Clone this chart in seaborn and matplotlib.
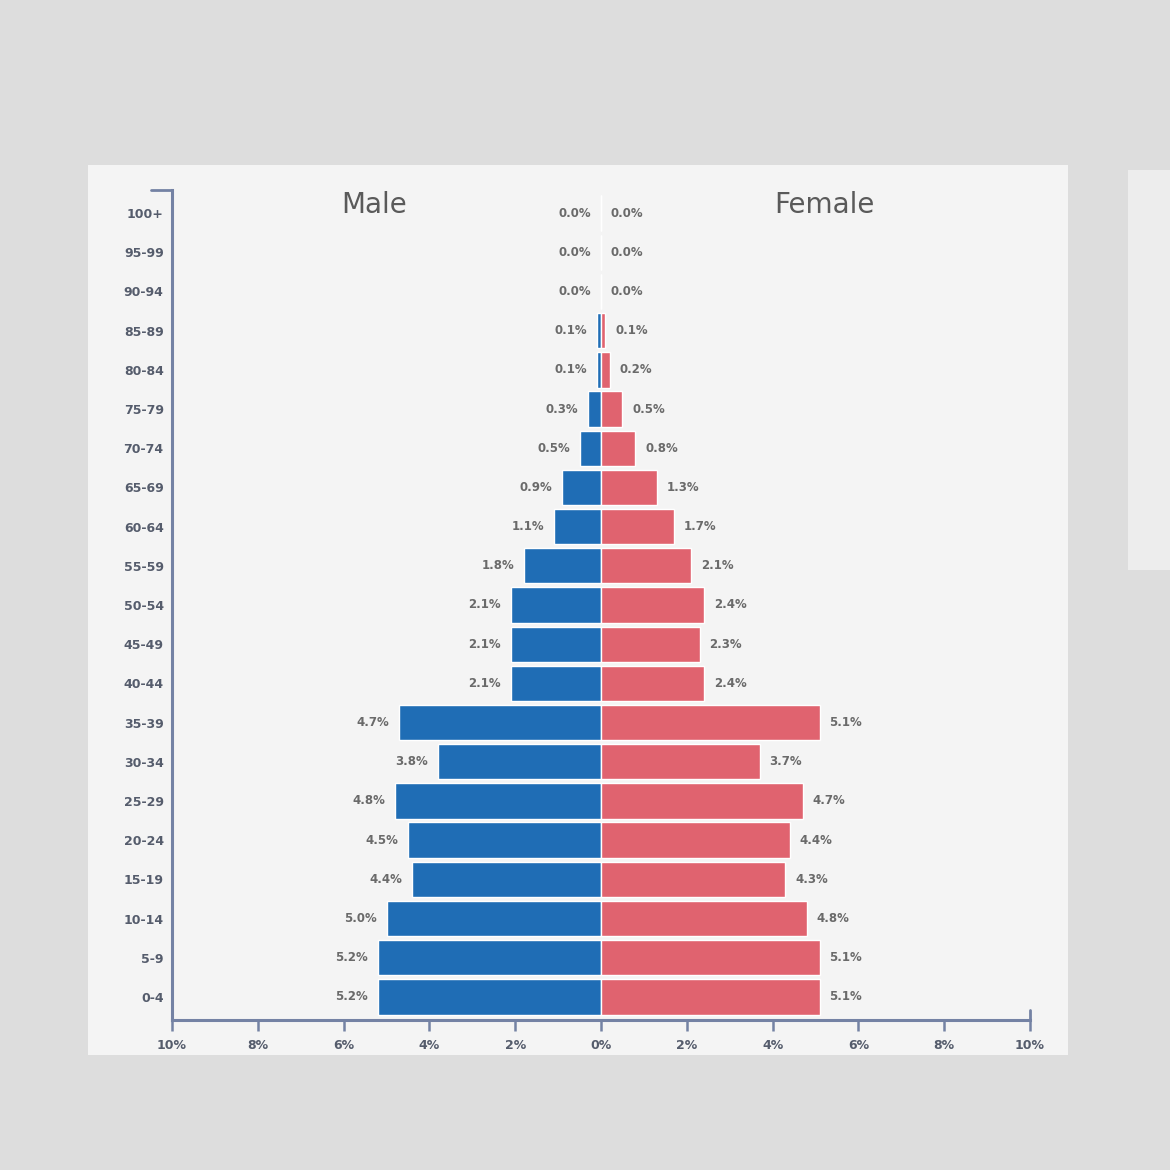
import numpy as np
import pandas as pd
import seaborn as sns
import matplotlib.pyplot as plt
from matplotlib.patches import Rectangle

# age groups, top of the pyramid first
ages = ['100+', '95-99', '90-94', '85-89', '80-84', '75-79', '70-74', '65-69',
        '60-64', '55-59', '50-54', '45-49', '40-44', '35-39', '30-34', '25-29',
        '20-24', '15-19', '10-14', '5-9', '0-4']

# percent of population
male = [0.0, 0.0, 0.0, 0.1, 0.1, 0.3, 0.5, 0.9, 1.1, 1.8, 2.1, 2.1, 2.1,
        4.7, 3.8, 4.8, 4.5, 4.4, 5.0, 5.2, 5.2]
female = [0.0, 0.0, 0.0, 0.1, 0.2, 0.5, 0.8, 1.3, 1.7, 2.1, 2.4, 2.3, 2.4,
          5.1, 3.7, 4.7, 4.4, 4.3, 4.8, 5.1, 5.1]

x_ticks = [-10, -8, -6, -4, -2, 0, 2, 4, 6, 8, 10]
x_tick_labels = ['10%', '8%', '6%', '4%', '2%', '0%', '2%', '4%', '6%', '8%', '10%']

# long frame, male drawn to the left
df = pd.DataFrame({
    'age': ages + ages,
    'sex': ['Male'] * len(ages) + ['Female'] * len(ages),
    'value': [-v for v in male] + female,
})

sns.set_style('white')
plt.rcParams['font.family'] = ['DejaVu Sans']

fig = plt.figure(figsize=(11.7, 11.7), dpi=100)
fig.patch.set_facecolor('#dddddd')

# chart panel and the partial panel on the right
fig.patches.append(Rectangle((88 / 1170, 1 - 1055 / 1170), 980 / 1170, 890 / 1170,
                             transform=fig.transFigure, facecolor='#f4f4f4',
                             edgecolor='none', zorder=-10))
fig.patches.append(Rectangle((1128 / 1170, 1 - 570 / 1170), 60 / 1170, 400 / 1170,
                             transform=fig.transFigure, facecolor='#ededed',
                             edgecolor='none', zorder=-10))

ax = fig.add_axes([172 / 1170, 1 - 1020 / 1170, 858 / 1170, 830 / 1170])
ax.set_facecolor('none')

sns.barplot(data=df, x='value', y='age', hue='sex', order=ages, dodge=False,
            palette={'Male': '#1f6db5', 'Female': '#e0636f'}, width=0.9,
            saturation=1, legend=False, ax=ax)

ax.set_xlim(-10, 10)
ax.set_ylim(20.59, -0.59)
ax.set_xticks(x_ticks)
ax.set_xticklabels(x_tick_labels)
ax.set_xlabel('')
ax.set_ylabel('')

axis_col = '#7482a4'
for side in ['top', 'right']:
    ax.spines[side].set_visible(False)
for side in ['left', 'bottom']:
    ax.spines[side].set_color(axis_col)
    ax.spines[side].set_linewidth(2.2)

ax.tick_params(axis='x', bottom=True, length=8, width=1.8, color=axis_col, pad=6,
               labelsize=9, labelcolor='#555c6c')
ax.tick_params(axis='y', length=0, pad=6, labelsize=9, labelcolor='#555c6c')
for lab in ax.get_xticklabels() + ax.get_yticklabels():
    lab.set_fontweight('bold')

# small caps at the axis ends
ax.plot([0, -0.025], [1, 1], transform=ax.transAxes, color=axis_col, lw=2, clip_on=False)
ax.plot([1, 1], [0, 0.012], transform=ax.transAxes, color=axis_col, lw=2, clip_on=False)

# value labels at the ends of bars
for i, (m, f) in enumerate(zip(male, female)):
    ax.annotate(f'{m:.1f}%', (-m, i), xytext=(-7, 0), textcoords='offset points',
                ha='right', va='center', fontsize=8.5, fontweight='bold', color='#6a6a6a')
    ax.annotate(f'{f:.1f}%', (f, i), xytext=(7, 0), textcoords='offset points',
                ha='left', va='center', fontsize=8.5, fontweight='bold', color='#6a6a6a')

ax.text(-5.3, -0.2, 'Male', ha='center', va='center', fontsize=20, color='#5a5a5a')
ax.text(5.2, -0.2, 'Female', ha='center', va='center', fontsize=20, color='#5a5a5a')

plt.savefig('out.png', dpi=100, facecolor=fig.get_facecolor())
plt.clf()
